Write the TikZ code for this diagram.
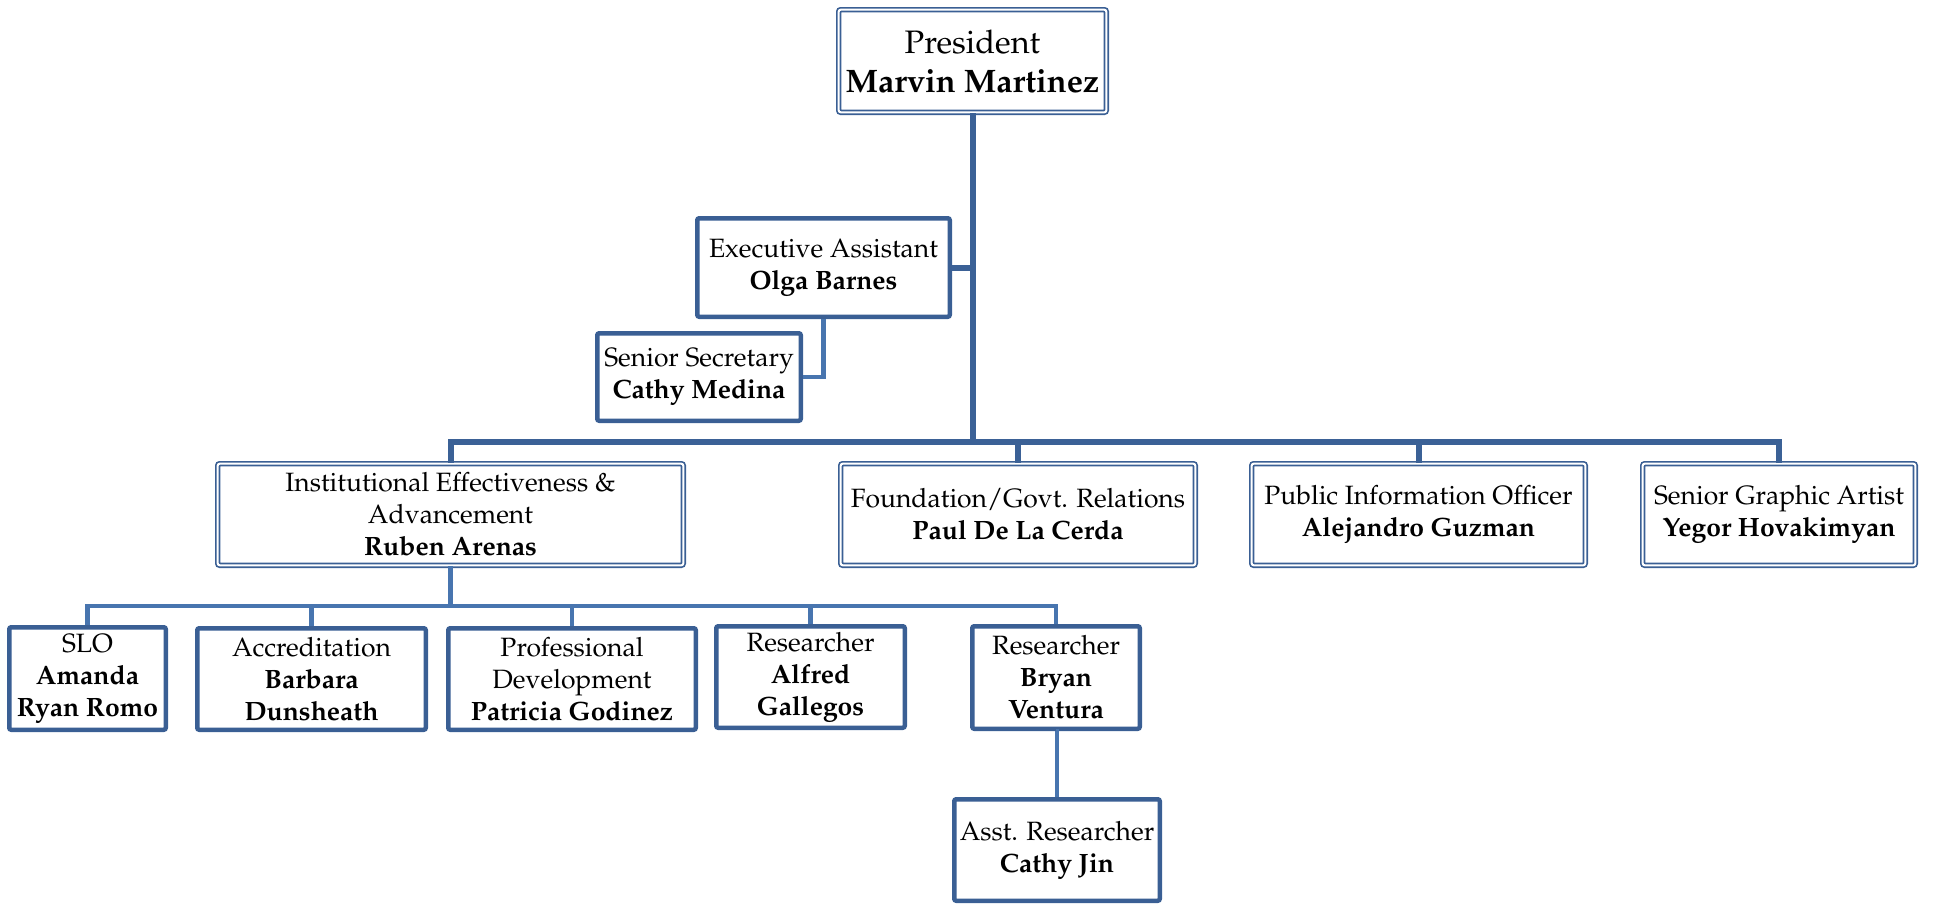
\documentclass[tikz,border=0pt]{standalone}
\usepackage[T1]{fontenc}
\renewcommand{\rmdefault}{ppl}
\definecolor{boxblue}{RGB}{58,95,148}
\definecolor{lineblue}{RGB}{59,97,150}
\definecolor{lineblue2}{RGB}{72,117,175}
\tikzset{
  base/.style={rectangle, inner sep=0pt, align=center, fill=white, text=black,
    font=\fontsize{26.5}{32}\selectfont, rounded corners=2pt},
  sbox/.style={base, draw=boxblue, line width=4.5pt},
  dbox/.style={base, draw=boxblue, double=white, double distance=2pt, line width=1.7pt},
  conn/.style={draw=lineblue, line width=6pt},
  conn2/.style={draw=lineblue2, line width=4.5pt}
}
\begin{document}
\begin{tikzpicture}[x=1pt,y=-1pt]
\useasboundingbox (0,0) rectangle (1933,906);
\coordinate (barY) at (0,442);
\coordinate (bartwoY) at (0,606);

% boxes
\node[dbox, minimum width=267.6pt, minimum height=102.6pt,
  font=\fontsize{32.5}{39}\selectfont] (pres) at (972.5,61)
  {President\\\textbf{Marvin Martinez}};
\node[sbox, minimum width=252.5pt, minimum height=98.5pt] (exec) at (823.5,267.5)
  {Executive Assistant\\\textbf{Olga Barnes}};
\node[sbox, minimum width=203.5pt, minimum height=87.5pt] (sec) at (699,377)
  {Senior Secretary\\\textbf{Cathy Medina}};
\node[dbox, minimum width=465.6pt, minimum height=101.6pt] (ie) at (450.5,514.5)
  {Institutional Effectiveness \&\\Advancement\\\textbf{Ruben Arenas}};
\node[dbox, minimum width=354.6pt, minimum height=101.6pt] (found) at (1018,514.5)
  {Foundation/Govt. Relations\\\textbf{Paul De La Cerda}};
\node[dbox, minimum width=333.6pt, minimum height=101.6pt] (pio) at (1418.5,514.5)
  {Public Information Officer\\\textbf{Alejandro Guzman}};
\node[dbox, minimum width=272.6pt, minimum height=101.6pt] (sga) at (1779,514.5)
  {Senior Graphic Artist\\\textbf{Yegor Hovakimyan}};
\node[sbox, minimum width=156.5pt, minimum height=102.5pt] (slo) at (87.5,678.5)
  {SLO\\\textbf{Amanda}\\\textbf{Ryan Romo}};
\node[sbox, minimum width=228.5pt, minimum height=101.5pt] (accr) at (311.5,679)
  {Accreditation\\\textbf{Barbara}\\\textbf{Dunsheath}};
\node[sbox, minimum width=247.5pt, minimum height=101.5pt] (prof) at (572,679)
  {Professional\\Development\\\textbf{Patricia Godinez}};
\node[sbox, minimum width=188.5pt, minimum height=101.5pt] (alf) at (810.5,677)
  {Researcher\\\textbf{Alfred}\\\textbf{Gallegos}};
\node[sbox, minimum width=167.5pt, minimum height=102.5pt] (bryan) at (1056,677.5)
  {Researcher\\\textbf{Bryan}\\\textbf{Ventura}};
\node[sbox, minimum width=205.5pt, minimum height=101.5pt] (jin) at (1057,850)
  {Asst. Researcher\\\textbf{Cathy Jin}};

% connectors
\draw[conn] (pres.south) -- (pres.south |- barY);
\draw[conn] (ie.north) |- (sga.north |- barY) -- (sga.north);
\draw[conn] (found.north) -- (found.north |- barY);
\draw[conn] (pio.north) -- (pio.north |- barY);
\draw[conn] (exec.east) -- (exec.east -| pres.south);
\draw[conn2] (exec.south) |- (sec.east);
\draw[conn2] (ie.south) -- (ie.south |- bartwoY);
\draw[conn2] (slo.north) |- (bryan.north |- bartwoY) -- (bryan.north);
\draw[conn2] (accr.north) -- (accr.north |- bartwoY);
\draw[conn2] (prof.north) -- (prof.north |- bartwoY);
\draw[conn2] (alf.north) -- (alf.north |- bartwoY);
\draw[conn2] (bryan.south) -- (bryan.south -| jin.north) -- (jin.north);
\end{tikzpicture}
\end{document}
